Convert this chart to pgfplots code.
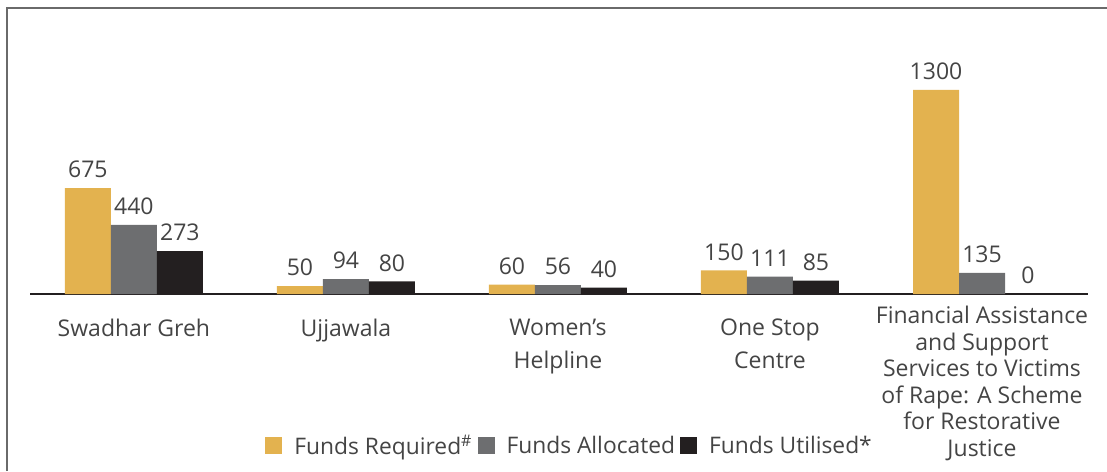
\documentclass[border=0pt]{standalone}
\usepackage{pgfplots}
\pgfplotsset{compat=1.18}
\usepackage{fontspec}
\setmainfont{Open Sans}
\definecolor{fundreq}{HTML}{E3B24F}
\definecolor{fundalloc}{HTML}{6D6E70}
\definecolor{fundutil}{HTML}{231F20}
\definecolor{txt}{HTML}{444444}
\definecolor{framec}{HTML}{6A6A6A}

\begin{document}
\begin{tikzpicture}
% page = 1107x471 px at 0.5pt/px, origin at the left end of the baseline
\path[use as bounding box] (-15pt,-88.5pt) rectangle (538.5pt,147pt);
\draw[framec, line width=1pt] (-11.5pt,-88.5pt) -- (-11.5pt,143pt) -- (538.5pt,143pt);
\begin{axis}[
    at={(0,0)}, anchor=south west, scale only axis,
    width=529pt, height=117.75pt,
    xmin=-0.49, xmax=4.5, ymin=0, ymax=1500,
    ybar=0pt, bar width=23pt,
    axis y line=none, axis x line=bottom,
    x axis line style={-, draw=fundutil, line width=0.6pt},
    major tick length=0pt,
    xtick={0,1,2,3},
    xticklabels={Swadhar Greh, Ujjawala, {Women’s\\[3pt]Helpline}, {One Stop\\[3pt]Centre}},
    extra x ticks={4},
    extra x tick labels={{Financial Assistance\\and Support\\Services to Victims\\of Rape: A Scheme\\for Restorative\\Justice}},
    extra x tick style={grid=none, xticklabel style={yshift=6.5pt}},
    xticklabel style={font=\fontsize{11.5}{13.3}\selectfont, text=txt, align=center, anchor=north, yshift=-9pt},
    nodes near coords,
    /pgf/number format/assume math mode=true,
    /pgf/number format/1000 sep={},
    every node near coord/.append style={font=\fontsize{11.5}{13.5}\selectfont, text=txt, yshift=1.5pt},
    legend style={at={(0.511,-0.645)}, anchor=center, draw=none, fill=none,
        legend columns=-1, font=\fontsize{11.4}{13}\selectfont, text=txt,
        /tikz/every even column/.append style={column sep=0.5pt}},
    clip=false,
]
\addplot[fill=fundreq, draw=none, legend image code/.code={\fill[fundreq] (0pt,-4.25pt) rectangle (8.5pt,4.25pt); \path (12.5pt,0pt);}]
    coordinates {(0,675) (1,50) (2,60) (3,150) (4,1300)};
\addlegendentry{Funds Required\textsuperscript{\#}}
\addplot[fill=fundalloc, draw=none, legend image code/.code={\fill[fundalloc] (0pt,-4.25pt) rectangle (8.5pt,4.25pt); \path (12.5pt,0pt);}]
    coordinates {(0,440) (1,94) (2,56) (3,111) (4,135)};
\addlegendentry{Funds Allocated}
\addplot[fill=fundutil, draw=none, legend image code/.code={\fill[fundutil] (0pt,-4.25pt) rectangle (8.5pt,4.25pt); \path (12.5pt,0pt);}]
    coordinates {(0,273) (1,80) (2,40) (3,85) (4,0)};
\addlegendentry{Funds Utilised*}
\end{axis}
\end{tikzpicture}
\end{document}
